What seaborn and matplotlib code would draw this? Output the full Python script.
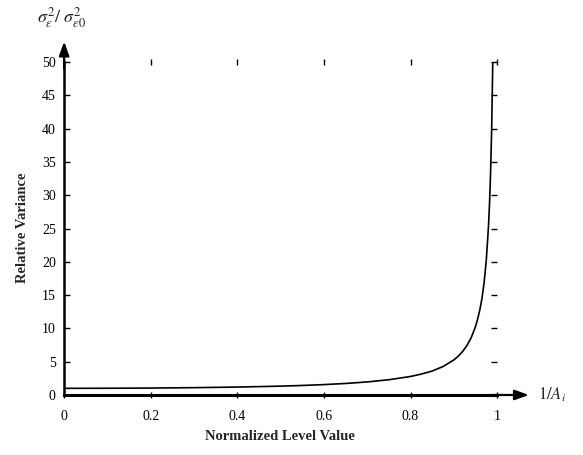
import matplotlib
matplotlib.use("Agg")
import matplotlib.pyplot as plt
import matplotlib.transforms as mtrans
import seaborn as sns
import pandas as pd

# values
level = [0.0, 0.1, 0.2, 0.3, 0.4, 0.5, 0.55, 0.6, 0.65, 0.7, 0.75, 0.8, 0.825,
         0.85, 0.875, 0.9, 0.91, 0.92, 0.93, 0.94, 0.95, 0.955, 0.96, 0.965,
         0.97, 0.975, 0.98, 0.9825, 0.985, 0.9875, 0.99]
variance = [1.0, 1.01, 1.04, 1.1, 1.19, 1.33, 1.43, 1.56, 1.73, 1.96, 2.29, 2.78,
            3.14, 3.6, 4.27, 5.26, 5.82, 6.51, 7.4, 8.59, 10.26, 11.4, 12.76, 14.5,
            16.92, 20.25, 25.25, 28.8, 33.6, 40.3, 50.3]
x_ticks = [0, 0.2, 0.4, 0.6, 0.8, 1]
x_ticklabels = ["0", "0.2", "0.4", "0.6", "0.8", "1"]
y_ticks = [0, 5, 10, 15, 20, 25, 30, 35, 40, 45, 50]

df = pd.DataFrame({"level": level, "variance": variance})

sns.set_theme(style="white")
plt.rcParams["font.family"] = ["Liberation Serif", "DejaVu Serif"]
plt.rcParams["mathtext.fontset"] = "stix"

fig = plt.figure(figsize=(5.83, 4.55), dpi=100)
ax = fig.add_axes([0.110, 0.1319, 0.7427, 0.7318])

sns.lineplot(data=df, x="level", y="variance", ax=ax, color="black", linewidth=1.2)

ax.set_xlim(0, 1)
ax.set_ylim(0, 50)
ax.set_xticks(x_ticks)
ax.set_xticklabels(x_ticklabels)
ax.set_yticks(y_ticks)
ax.set_xlabel("")
ax.set_ylabel("")

for s in ["top", "right"]:
    ax.spines[s].set_visible(False)
ax.spines["left"].set_linewidth(1.8)
ax.spines["bottom"].set_linewidth(2.2)
ax.spines["left"].set_color("black")
ax.spines["bottom"].set_color("black")

ax.tick_params(axis="x", direction="inout", length=5, width=1, pad=8,
               labelsize=10, colors="black", bottom=True, top=True)
ax.tick_params(axis="y", direction="in", length=4, width=1, pad=6,
               labelsize=10, colors="black", left=True, right=True)
ax.tick_params(axis="x", which="both", labeltop=False)
ax.tick_params(axis="y", which="both", labelright=False)
for t in ax.xaxis.get_major_ticks():
    t.tick2line.set_markersize(4)
for t in ax.yaxis.get_major_ticks():
    t.tick2line.set_marker(0)
    t.tick2line.set_markersize(4)

# axis arrows
ax.annotate("", xy=(1.08, 0), xytext=(0.98, 0), xycoords=("axes fraction", "data"),
            arrowprops=dict(arrowstyle="-|>,head_length=0.7,head_width=0.25",
                            color="black", lw=1.6), annotation_clip=False)
ax.annotate("", xy=(0, 1.07), xytext=(0, 0.97), xycoords=("data", "axes fraction"),
            arrowprops=dict(arrowstyle="-|>,head_length=0.7,head_width=0.25",
                            color="black", lw=1.6), annotation_clip=False)

ax.text(1.095, 0, r"$1/A_i$",
        transform=mtrans.blended_transform_factory(ax.transAxes, ax.transData),
        ha="left", va="center", fontsize=12)

fig.text(0.48, 0.04, "Normalized Level Value", ha="center", va="center",
         fontsize=10.5, fontweight="bold")
fig.text(0.038, 0.50, "Relative Variance", ha="center", va="center",
         rotation=90, fontsize=10.5, fontweight="bold")
fig.text(0.063, 0.962, r"$\sigma_\varepsilon^2/\ \sigma_{\varepsilon 0}^2$",
         ha="left", va="center", fontsize=13)

fig.savefig("out.png", dpi=100, facecolor="white")
